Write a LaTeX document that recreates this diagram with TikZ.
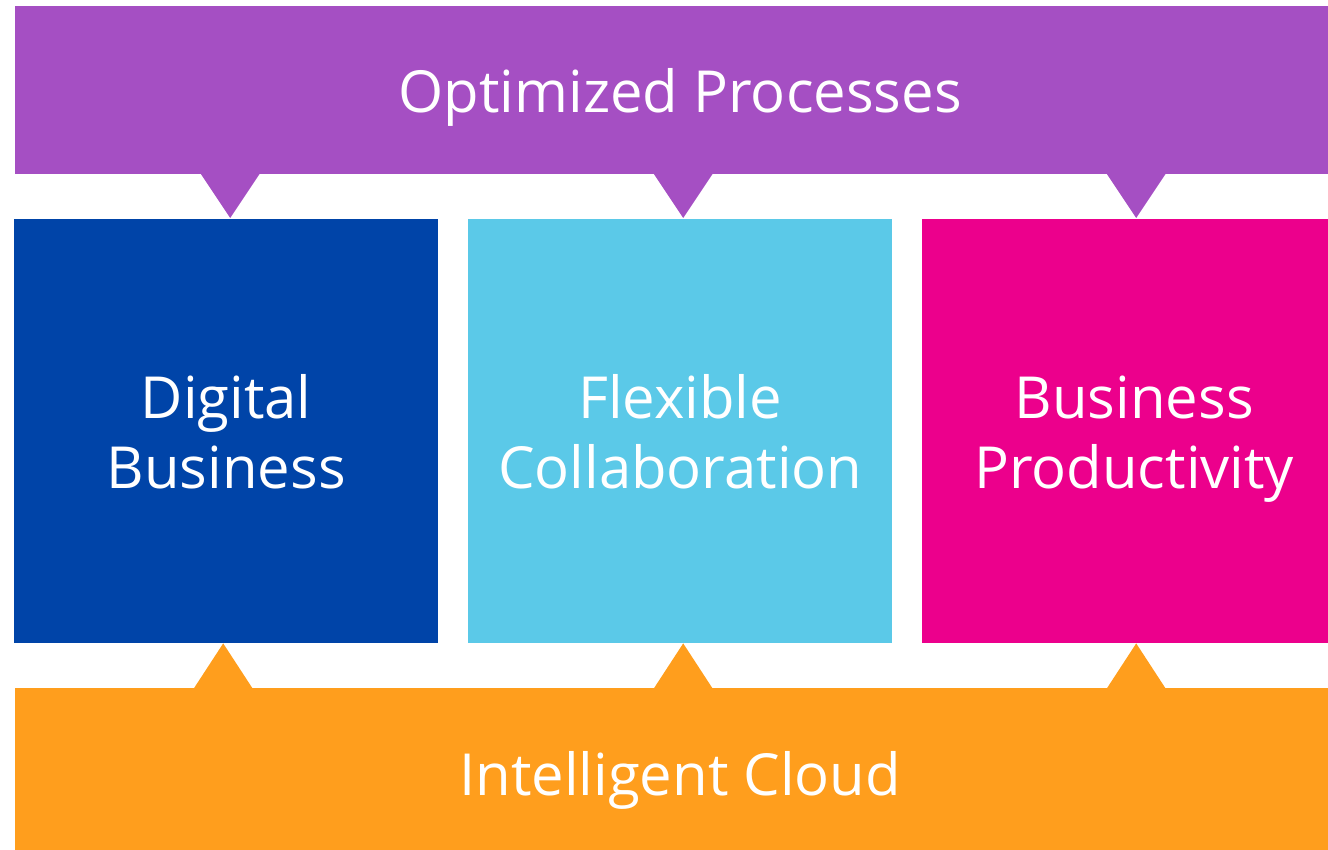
\documentclass[tikz,border=0pt]{standalone}
\usepackage{fontspec}
\setmainfont{Open Sans}
\usetikzlibrary{calc}
\definecolor{procpurple}{HTML}{A54FC3}
\definecolor{digiblue}{HTML}{0044A8}
\definecolor{collabcyan}{HTML}{5BC9E8}
\definecolor{prodmagenta}{HTML}{EC008C}
\definecolor{cloudorange}{HTML}{FF9E1D}
\tikzset{
  bar/.style={fill=#1, text=white, anchor=north west, inner sep=0pt,
    minimum width=1330pt, text height=44pt, text depth=0pt,
    font=\fontsize{58}{70}\selectfont},
  pillar/.style={fill=#1, text=white, anchor=north west, inner sep=0pt,
    minimum width=424pt, minimum height=424pt, align=center,
    text height=114pt, text depth=0pt, font=\fontsize{58}{70}\selectfont}
}

\begin{document}
\begin{tikzpicture}[x=1pt,y=-1pt]
\clip (0,0) rectangle (1328,850);
\node[bar=procpurple, minimum height=168pt] (op) at (15,6) {Optimized Processes};
\node[bar=cloudorange, minimum height=170pt] (ic) at (15,688) {Intelligent Cloud};
\node[pillar=digiblue] (db) at (14,219) {Digital\\Business};
\node[pillar=collabcyan] (fc) at (468,219) {Flexible\\Collaboration};
\node[pillar=prodmagenta] (bp) at (922,219) {Business\\Productivity};
% pointers from the top bar
\foreach \b/\dx in {db/4,fc/3,bp/2}
  \fill[procpurple] ($(\b.north)+(\dx-30,-46)$) -- ($(\b.north)+(\dx+30,-46)$)
    -- ($(\b.north)+(\dx,-1)$) -- cycle;
% pointers from the bottom bar
\foreach \b/\dx in {db/-3,fc/3,bp/2}
  \fill[cloudorange] ($(\b.south)+(\dx-30,46)$) -- ($(\b.south)+(\dx+30,46)$)
    -- ($(\b.south)+(\dx,0)$) -- cycle;
\end{tikzpicture}
\end{document}
